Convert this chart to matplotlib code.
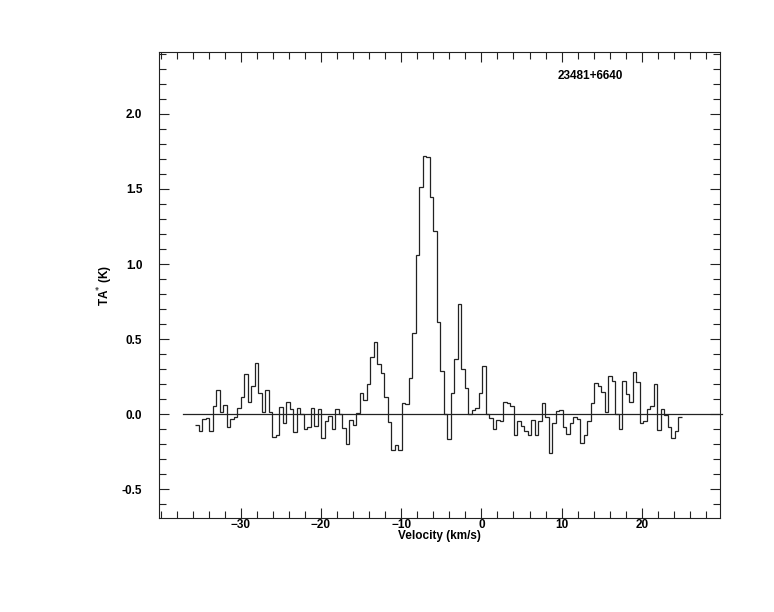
import numpy as np
import matplotlib
matplotlib.use('Agg')
import matplotlib.pyplot as plt
from matplotlib.ticker import MultipleLocator, FixedLocator, FormatStrFormatter

# Spectrum: antenna temperature per channel (K)
v_start = -35.65   # km/s, left edge of first channel
chan_width = 0.4362  # km/s
ta = [
    -0.073, -0.113, -0.031, -0.024, -0.113, 0.051, 0.160, 0.013, 0.058, -0.089,
    -0.033, -0.022, 0.038, 0.111, 0.267, 0.080, 0.187, 0.338, 0.138, 0.013,
    0.160, 0.013, -0.156, -0.137, 0.044, -0.060, 0.078, 0.032, -0.121, 0.040,
    0.000, -0.102, -0.089, 0.038, -0.080, 0.031, -0.162, -0.045, -0.012, -0.098,
    0.031, -0.001, -0.096, -0.200, -0.038, -0.075, 0.009, 0.138, 0.093, 0.198,
    0.382, 0.478, 0.333, 0.271, 0.116, -0.056, -0.240, -0.207, -0.240, 0.076,
    0.064, 0.238, 0.538, 1.058, 1.516, 1.720, 1.716, 1.444, 1.220, 0.615,
    0.290, 0.000, -0.167, 0.143, 0.364, 0.731, 0.300, 0.171, 0.000, 0.027,
    0.040, 0.143, 0.323, 0.000, -0.029, -0.100, -0.040, -0.044, 0.078, 0.071,
    0.056, -0.140, -0.047, -0.080, -0.110, -0.140, -0.040, -0.140, -0.047, 0.071,
    -0.022, -0.262, -0.062, 0.022, 0.027, -0.089, -0.133, -0.060, -0.020, -0.030,
    -0.196, -0.140, -0.047, 0.071, 0.204, 0.187, 0.144, 0.011, 0.253, 0.220,
    -0.002, -0.102, 0.220, 0.131, 0.078, 0.278, 0.211, -0.058, -0.047, 0.031,
    0.053, 0.198, -0.107, 0.031, -0.007, -0.084, -0.162, -0.113, -0.022,
]
source_name = '23481+6640'
baseline_range = (-37.2, 30.0)
x_labels = [-30, -20, -10, 0, 10, 20]
y_labels = [-0.5, 0.0, 0.5, 1.0, 1.5, 2.0]

edges = v_start + chan_width * np.arange(len(ta) + 1)

plt.rcParams['font.family'] = ['Liberation Sans', 'DejaVu Sans']

fig = plt.figure(figsize=(7.74, 6.12), dpi=100)
ax = fig.add_axes([0.2054, 0.1536, 0.7248, 0.7614])

ax.stairs(ta, edges, baseline=None, color='#222222', linewidth=0.9)
ax.plot(baseline_range, [0, 0], color='#222222', linewidth=0.9, clip_on=False)

ax.set_xlim(-40.2, 29.75)
ax.set_ylim(-0.693, 2.413)

ax.xaxis.set_major_locator(FixedLocator(x_labels))
ax.xaxis.set_minor_locator(MultipleLocator(2))
ax.yaxis.set_major_locator(FixedLocator(y_labels))
ax.yaxis.set_minor_locator(MultipleLocator(0.1))
ax.yaxis.set_major_formatter(FormatStrFormatter('%.1f'))

ax.tick_params(which='both', direction='in', top=True, right=True,
               width=0.8, color='#222222', labelsize=8.5)
ax.tick_params(axis='x', which='both', pad=1)
ax.tick_params(axis='y', which='both', pad=12)
ax.tick_params(which='major', length=7)
ax.tick_params(which='minor', length=5)
for lab in ax.get_xticklabels() + ax.get_yticklabels():
    lab.set_fontweight('bold')
for s in ax.spines.values():
    s.set_linewidth(0.8)
    s.set_color('#222222')

ax.set_xlabel('Velocity (km/s)', fontsize=8.5, fontweight='bold', labelpad=-1)
ax.set_ylabel(r'TA$^{*}$ (K)', fontsize=8.5, fontweight='bold', labelpad=5)
ax.text(0.768, 0.948, source_name, transform=ax.transAxes, ha='center',
        va='center', fontsize=8.5, fontweight='bold')

fig.savefig('out.png', dpi=100)
